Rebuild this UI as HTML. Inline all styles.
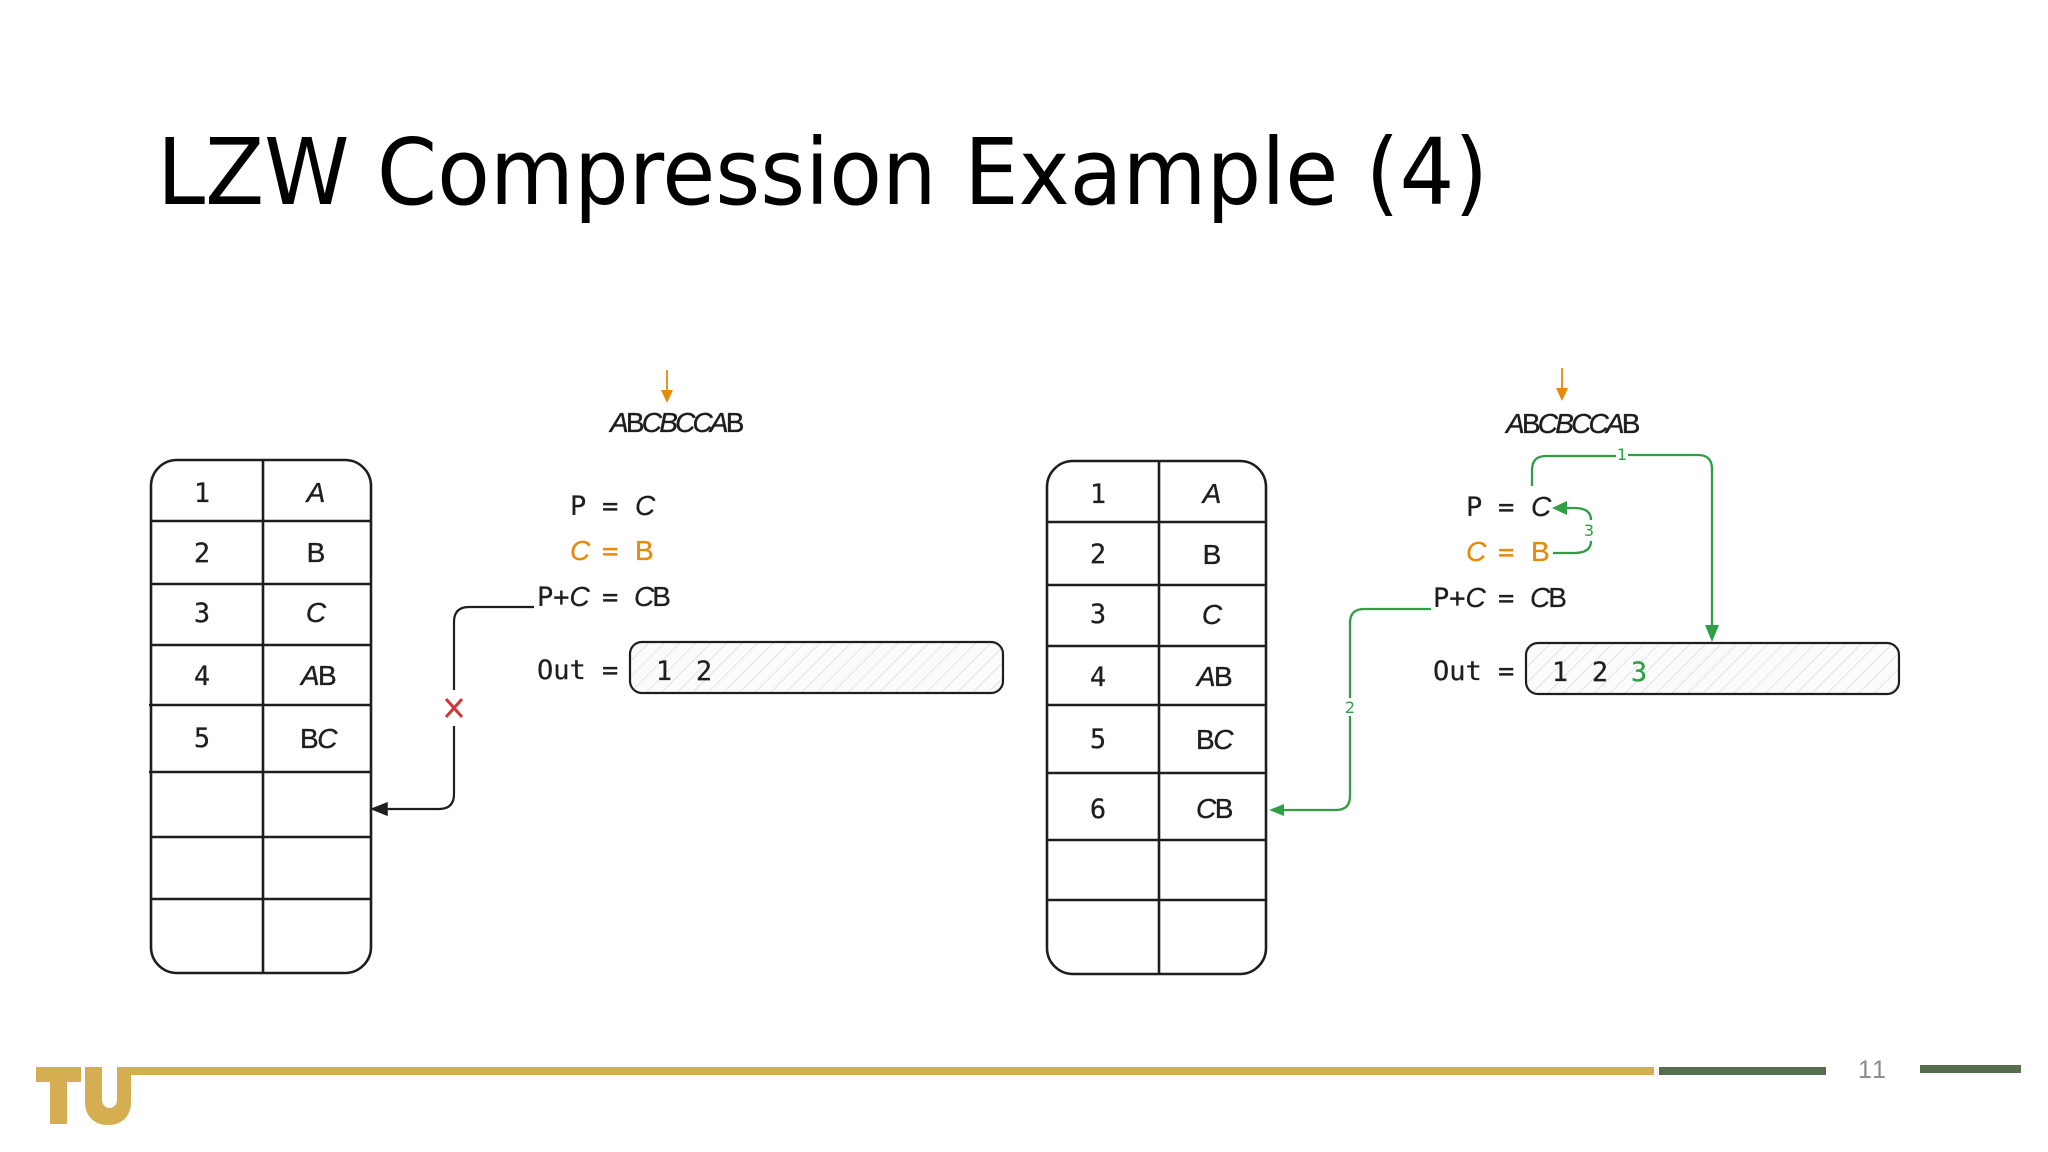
<!DOCTYPE html>
<html>
<head>
<meta charset="utf-8">
<style>
html,body{margin:0;padding:0;background:#fff;width:2048px;height:1152px;overflow:hidden}
svg{display:block}
.m{font-family:"DejaVu Sans Mono","Liberation Mono",monospace;font-size:27px;fill:#1e1e1e;stroke:#1e1e1e;stroke-width:.25}
.h{font-family:"Liberation Sans",sans-serif;font-size:28px;fill:#1e1e1e;stroke:#1e1e1e;stroke-width:.35}
.i{font-style:italic}
.t{fill:none;stroke:#1e1e1e;stroke-width:2.6}
.g{fill:none;stroke:#2f9e44;stroke-width:2.3}
.o{fill:#e8890c}
.gl{font-family:"DejaVu Sans",sans-serif;font-size:16px;fill:#2f9e44;text-anchor:middle}
.or{fill:#e8890c;stroke:#e8890c}
.hc{font-family:"Liberation Sans",sans-serif;font-size:28px}
</style>
</head>
<body>
<svg width="2048" height="1152" viewBox="0 0 2048 1152" xmlns="http://www.w3.org/2000/svg">
<defs>
<pattern id="hatch" width="11" height="11" patternUnits="userSpaceOnUse" patternTransform="rotate(45)">
<rect width="11" height="11" fill="#fbfbfb"/>
<line x1="0" y1="0" x2="0" y2="11" stroke="#dcdcdc" stroke-width="1.6"/>
</pattern>
</defs>

<text x="157" y="204" font-family="'DejaVu Sans',sans-serif" font-size="92" fill="#000" textLength="1331" lengthAdjust="spacingAndGlyphs">LZW Compression Example (4)</text>

<!-- Left table -->
<rect class="t" x="151" y="460" width="220" height="513" rx="26"/>
<path class="t" d="M263 459V974M150 521H371M151 584H371M151 645H371M149 705H371M149 772H371M151 837H371M151 899H371"/>
<g class="m" text-anchor="middle">
<text x="202" y="502">1</text><text x="202" y="562">2</text><text x="202" y="622">3</text><text x="202" y="685">4</text><text x="202" y="747">5</text>
</g>
<g class="h" text-anchor="middle">
<text x="316" y="502" class="i">A</text><text x="316" y="562">B</text><text x="316" y="622" class="i">C</text>
<text x="318" y="685" letter-spacing="-1.5"><tspan class="i">A</tspan>B</text>
<text x="318" y="748" letter-spacing="-1.5">B<tspan class="i">C</tspan></text>
</g>

<!-- Left connector -->
<path d="M534 607H469Q454 607 454 622V690M454 726V794Q454 809 439 809H384" fill="none" stroke="#1e1e1e" stroke-width="2.2"/>
<path d="M372 809L387 803V815Z" fill="#1e1e1e" stroke="#1e1e1e" stroke-width="1.5"/>
<path d="M446 699L462 717M462 699L446 717" fill="none" stroke="#d43535" stroke-width="3"/>

<!-- Left text -->
<path d="M667 370V392" stroke="#e8890c" stroke-width="1.8"/>
<path d="M661 390H673L667 403Z" class="o"/>
<text x="610" y="432" class="h" letter-spacing="-2.8"><tspan class="i">A</tspan>B<tspan class="i">CBCCA</tspan>B</text>

<g class="m">
<text x="570" y="515">P</text><text x="602" y="515">=</text><text x="635" y="515" class="i hc">C</text>
<text x="570" y="560" class="or i hc">C</text><text x="602" y="560" class="or">=</text><text x="635" y="560" class="or hc">B</text>
<text x="537" y="606">P+<tspan class="i hc">C</tspan></text><text x="602" y="606">=</text><text x="634" y="606" class="hc" letter-spacing="-2"><tspan class="i">C</tspan>B</text>
<text x="537" y="679">Out</text><text x="602" y="679">=</text>
</g>
<rect x="630" y="642" width="373" height="51" rx="12" fill="url(#hatch)" stroke="#1e1e1e" stroke-width="2.2"/>
<g class="m" text-anchor="middle"><text x="664" y="680">1</text><text x="704" y="680">2</text></g>

<!-- Right table -->
<rect class="t" x="1047" y="461" width="219" height="513" rx="26"/>
<path class="t" d="M1159 460V975M1046 522H1266M1047 585H1266M1047 646H1266M1047 705H1266M1047 773H1266M1046 840H1266M1047 900H1266"/>
<g class="m" text-anchor="middle">
<text x="1098" y="503">1</text><text x="1098" y="563">2</text><text x="1098" y="623">3</text><text x="1098" y="686">4</text><text x="1098" y="748">5</text><text x="1098" y="818">6</text>
</g>
<g class="h" text-anchor="middle">
<text x="1212" y="503" class="i">A</text><text x="1212" y="564">B</text><text x="1212" y="624" class="i">C</text>
<text x="1214" y="686" letter-spacing="-1.5"><tspan class="i">A</tspan>B</text>
<text x="1214" y="749" letter-spacing="-1.5">B<tspan class="i">C</tspan></text>
<text x="1214" y="818" letter-spacing="-1.5"><tspan class="i">C</tspan>B</text>
</g>

<!-- Right connectors -->
<path class="g" d="M1431 609H1364Q1350 609 1350 623V698M1350 716V796Q1350 810 1336 810H1283"/>
<path d="M1269 810L1284 804V816Z" fill="#2f9e44"/>
<text x="1350" y="713" class="gl">2</text>

<path class="g" d="M1532 486V470Q1532 456 1546 456H1616M1628 455H1698Q1712 455 1712 469V628"/>
<path d="M1705 625H1719L1712 642Z" fill="#2f9e44"/>
<text x="1622" y="460" class="gl">1</text>

<path class="g" d="M1553 553H1574Q1591 553 1591 541M1591 520Q1591 508 1574 508H1562"/>
<path d="M1552 508L1567 501V515Z" fill="#2f9e44"/>
<text x="1589" y="536" class="gl">3</text>

<!-- Right text -->
<path d="M1562 368V390" stroke="#e8890c" stroke-width="1.8"/>
<path d="M1556 388H1568L1562 401Z" class="o"/>
<text x="1506" y="433" class="h" letter-spacing="-2.8"><tspan class="i">A</tspan>B<tspan class="i">CBCCA</tspan>B</text>

<g class="m">
<text x="1466" y="516">P</text><text x="1498" y="516">=</text><text x="1531" y="516" class="i hc">C</text>
<text x="1466" y="561" class="or i hc">C</text><text x="1498" y="561" class="or">=</text><text x="1531" y="561" class="or hc">B</text>
<text x="1433" y="607">P+<tspan class="i hc">C</tspan></text><text x="1498" y="607">=</text><text x="1530" y="607" class="hc" letter-spacing="-2"><tspan class="i">C</tspan>B</text>
<text x="1433" y="680">Out</text><text x="1498" y="680">=</text>
</g>
<rect x="1526" y="643" width="373" height="51" rx="12" fill="url(#hatch)" stroke="#1e1e1e" stroke-width="2.2"/>
<g class="m" text-anchor="middle"><text x="1560" y="681">1</text><text x="1600" y="681">2</text><text x="1639" y="681" style="fill:#2f9e44;stroke:#2f9e44">3</text></g>

<!-- Footer -->
<rect x="130" y="1067" width="1524" height="8" fill="#d4ae50"/>
<path d="M36 1067H81V1082H67V1124H50V1082H36Z" fill="#d4ae50"/>
<path d="M85 1067H102V1100A7.5 8 0 0 0 117 1100V1067H131V1102C131 1116 122 1125 108 1125C94 1125 85 1116 85 1102Z" fill="#d4ae50"/>
<rect x="1659" y="1067" width="167" height="8" fill="#556f4e"/>
<rect x="1920" y="1065" width="101" height="8" fill="#556f4e"/>
<text x="1873" y="1078" text-anchor="middle" font-family="'Liberation Sans',sans-serif" font-size="25" letter-spacing="2" fill="#8a8a8a">11</text>
</svg>
</body>
</html>
